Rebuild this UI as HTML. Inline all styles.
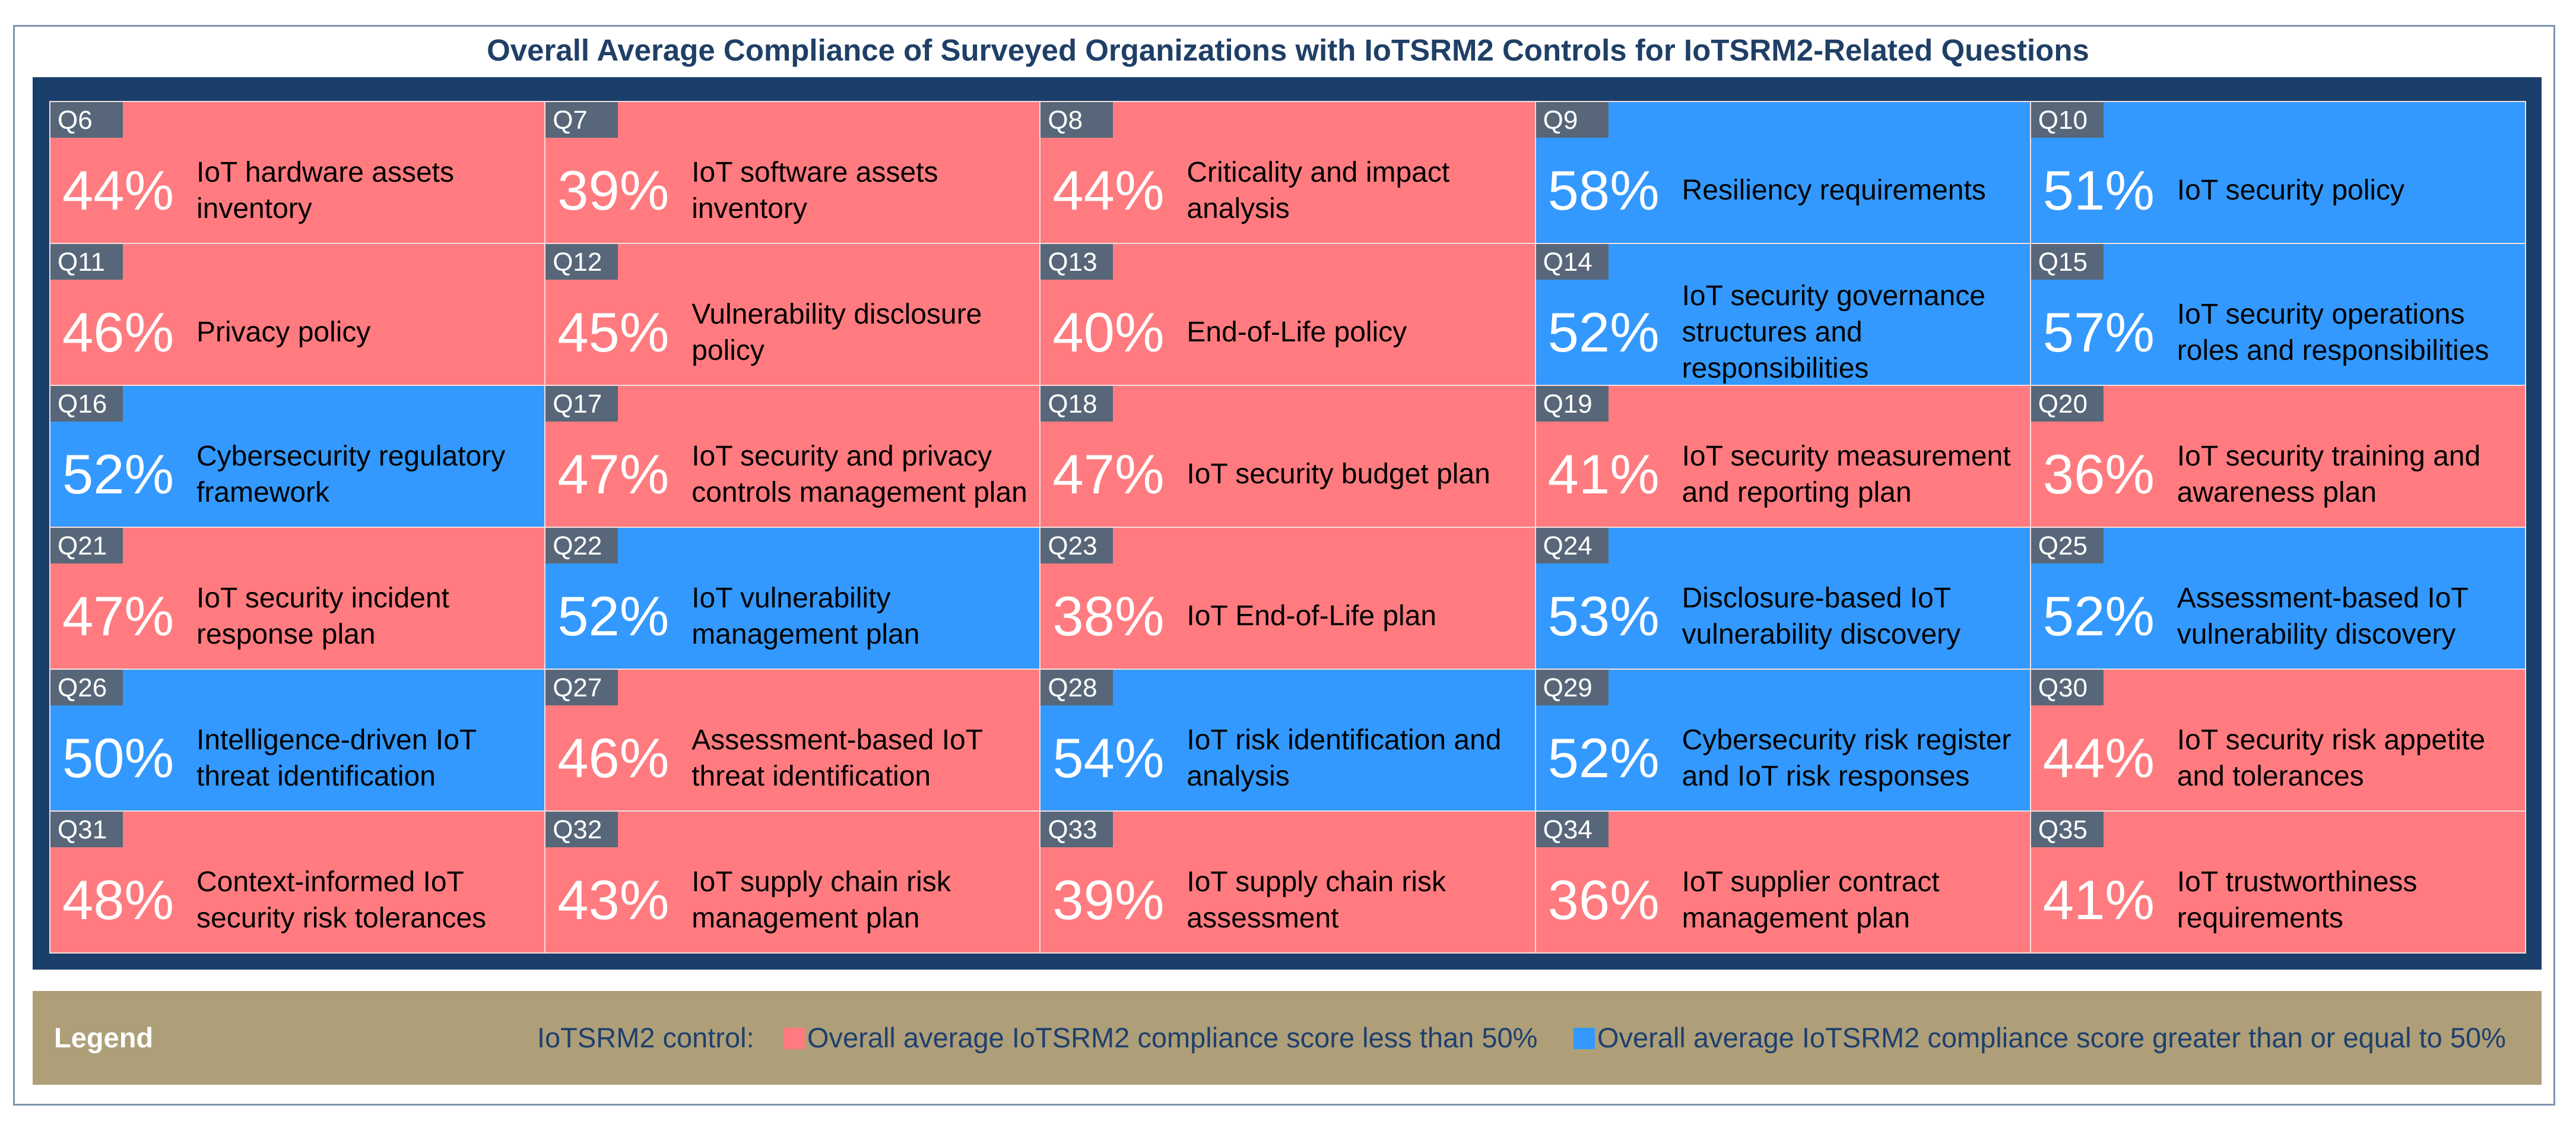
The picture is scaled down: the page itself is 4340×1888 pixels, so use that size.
<!DOCTYPE html>
<html><head><meta charset="utf-8">
<style>
html,body{margin:0;padding:0;background:#fff;}
body{width:4340px;height:1888px;position:relative;overflow:hidden;font-family:"Liberation Sans",sans-serif;}
#frame{position:absolute;left:22px;top:42px;width:4283px;height:1820px;border:3px solid #7f93b0;box-sizing:border-box;}
#title{position:absolute;left:0;width:4340px;top:55px;text-align:center;font-weight:bold;font-size:51px;color:#1f3f66;}
#navy{position:absolute;left:55px;top:130px;width:4227px;height:1503px;background:#1b3f6b;}
.cell{position:absolute;box-sizing:border-box;border:2px solid #f4dede;}
.ql{position:absolute;left:0;top:0;width:122px;height:60px;background:#576779;color:#fff;font-size:44px;line-height:62px;padding-left:12px;box-sizing:border-box;}
.body{position:absolute;left:0;right:0;top:60px;bottom:0;display:flex;align-items:center;}
.pct{position:absolute;left:20px;color:#fff;font-size:94px;line-height:1;}
.desc{position:absolute;left:246px;color:#000;font-size:48px;line-height:61px;width:590px;}
#legend{position:absolute;left:55px;top:1669px;width:4227px;height:158px;background:#ae9f78;}
.lt{position:absolute;top:53px;font-size:47px;color:#1f3f6e;white-space:nowrap;line-height:52px;}
.sw{position:absolute;top:62px;width:36px;height:36px;}
</style></head>
<body>
<div id="frame"></div>
<div id="title">Overall Average Compliance of Surveyed Organizations with IoTSRM2 Controls for IoTSRM2-Related Questions</div>
<div id="navy"></div>
<div id="grid"></div>
<div id="legend">
  <div class="lt" style="left:36px;color:#fff;font-weight:bold;">Legend</div>
  <div class="lt" style="left:850px;">IoTSRM2 control:</div>
  <div class="sw" style="left:1265px;background:#ff7b7f;"></div>
  <div class="lt" style="left:1305px;">Overall average IoTSRM2 compliance score less than 50%</div>
  <div class="sw" style="left:2596px;background:#3399ff;"></div>
  <div class="lt" style="left:2636px;">Overall average IoTSRM2 compliance score greater than or equal to 50%</div>
</div>
<script>
const questions = ["Q6","Q7","Q8","Q9","Q10","Q11","Q12","Q13","Q14","Q15","Q16","Q17","Q18","Q19","Q20","Q21","Q22","Q23","Q24","Q25","Q26","Q27","Q28","Q29","Q30","Q31","Q32","Q33","Q34","Q35"];
const scores = [44,39,44,58,51,46,45,40,52,57,52,47,47,41,36,47,52,38,53,52,50,46,54,52,44,48,43,39,36,41];
const labels = [
"IoT hardware assets<br>inventory","IoT software assets<br>inventory","Criticality and impact<br>analysis","Resiliency requirements","IoT security policy",
"Privacy policy","Vulnerability disclosure<br>policy","End-of-Life policy","IoT security governance<br>structures and<br>responsibilities","IoT security operations<br>roles and responsibilities",
"Cybersecurity regulatory<br>framework","IoT security and privacy<br>controls management plan","IoT security budget plan","IoT security measurement<br>and reporting plan","IoT security training and<br>awareness plan",
"IoT security incident<br>response plan","IoT vulnerability<br>management plan","IoT End-of-Life plan","Disclosure-based IoT<br>vulnerability discovery","Assessment-based IoT<br>vulnerability discovery",
"Intelligence-driven IoT<br>threat identification","Assessment-based IoT<br>threat identification","IoT risk identification and<br>analysis","Cybersecurity risk register<br>and IoT risk responses","IoT security risk appetite<br>and tolerances",
"Context-informed IoT<br>security risk tolerances","IoT supply chain risk<br>management plan","IoT supply chain risk<br>assessment","IoT supplier contract<br>management plan","IoT trustworthiness<br>requirements"];
const threshold = 50;
const gx=83, gy=170, cw=834.2, rh=239, ncol=5;
const grid=document.getElementById('grid');
questions.forEach((q,i)=>{
  const r=Math.floor(i/ncol), c=i%ncol;
  const cell=document.createElement('div');
  cell.className='cell';
  
  
  cell.style.left=(gx+c*cw)+'px'; cell.style.top=(gy+r*rh)+'px';
  cell.style.width=(cw+2)+'px'; cell.style.height=(rh+2)+'px';
  cell.style.background = scores[i]<threshold ? '#ff7b7f' : '#3399ff';
  const ql=document.createElement('div'); ql.className='ql'; ql.textContent=q;
  
  
  const body=document.createElement('div'); body.className='body';
  const p=document.createElement('div'); p.className='pct'; p.textContent=scores[i]+'%';
  
  
  const d=document.createElement('div'); d.className='desc'; d.innerHTML=labels[i];
  
  
  body.appendChild(p); body.appendChild(d);
  cell.appendChild(ql); cell.appendChild(body);
  grid.appendChild(cell);
});
</script>
</body></html>
